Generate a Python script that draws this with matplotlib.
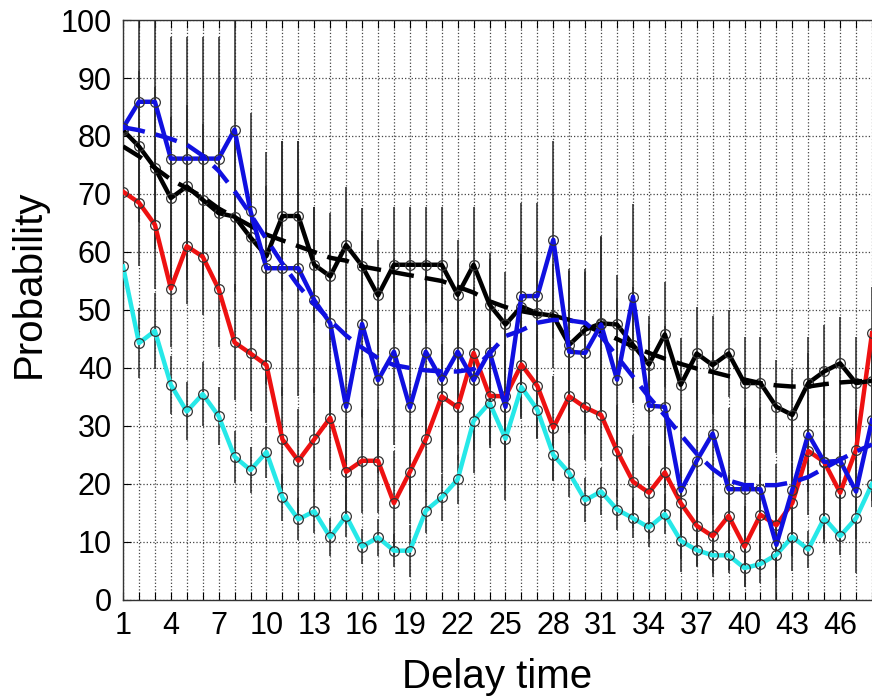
import numpy as np
import matplotlib
matplotlib.use("Agg")
import matplotlib.pyplot as plt

plt.rcParams['font.family'] = ['Liberation Sans', 'DejaVu Sans']

# delay time 1..48 (right part of the original is cut off)
delay = list(range(1, 49))

black = [81.0, 78.2, 74.5, 69.3, 71.3, 69.0, 66.7, 66.1, 62.5, 59.3, 66.2, 66.2, 57.8, 55.8, 61.2, 57.6,
         52.5, 57.8, 57.8, 57.8, 57.8, 52.6, 57.8, 50.9, 47.5, 50.6, 49.4, 49.0, 44.0, 46.6, 47.7, 47.5,
         44.0, 40.6, 45.8, 37.1, 42.5, 40.5, 42.5, 37.4, 37.4, 33.3, 31.9, 37.4, 39.4, 40.8, 37.4, 37.8]
blue = [81.4, 85.9, 85.9, 76.1, 76.1, 76.1, 76.1, 81.1, 67.0, 57.2, 57.2, 57.2, 51.7, 47.7, 33.3, 47.6,
        37.9, 42.8, 33.2, 42.8, 37.9, 42.8, 37.9, 42.8, 33.3, 52.4, 52.4, 62.1, 42.8, 42.6, 47.5, 38.0,
        52.3, 33.5, 33.3, 18.8, 24.0, 28.7, 19.1, 19.1, 19.1, 9.5, 19.0, 28.6, 23.8, 24.0, 18.7, 31.0]
red = [70.4, 68.5, 64.7, 53.7, 61.0, 59.2, 53.6, 44.4, 42.5, 40.5, 27.7, 24.0, 27.7, 31.4, 22.1, 24.0,
       24.0, 16.7, 22.1, 27.7, 35.1, 33.2, 42.6, 35.2, 35.1, 40.6, 36.9, 29.7, 35.1, 33.2, 31.9, 25.7,
       20.4, 18.5, 22.0, 16.7, 12.8, 11.0, 14.5, 9.2, 14.7, 12.9, 16.7, 25.7, 23.8, 18.5, 25.9, 46.0]
cyan = [57.5, 44.3, 46.4, 37.1, 32.5, 35.5, 31.7, 24.7, 22.4, 25.5, 17.7, 13.9, 15.3, 10.8, 14.5, 9.2,
        10.8, 8.5, 8.5, 15.4, 17.7, 20.8, 30.9, 34.0, 27.8, 36.7, 32.8, 25.0, 21.9, 17.2, 18.7, 15.6,
        14.1, 12.5, 14.8, 10.2, 8.6, 7.7, 7.7, 5.5, 6.2, 7.8, 10.9, 8.7, 14.1, 11.0, 14.1, 20.0]

# smooth fits (dashed)
black_fit = [78.2, 76.5, 74.5, 72.5, 71.0, 69.5, 67.5, 66.0, 64.5, 63.0, 62.0, 61.0, 60.0, 59.0, 58.5, 57.5,
             57.0, 56.5, 56.0, 55.5, 55.0, 54.0, 53.0, 51.5, 50.5, 49.8, 49.3, 49.0, 48.3, 47.3, 46.2, 45.0,
             43.7, 42.6, 41.6, 40.7, 39.9, 39.3, 38.6, 38.0, 37.4, 37.0, 36.8, 36.8, 37.2, 37.5, 37.7, 37.8]
blue_fit = [81.5, 81.0, 80.3, 79.5, 78.5, 76.6, 74.0, 70.5, 66.5, 62.2, 58.0, 54.2, 51.0, 48.2, 45.6, 43.5,
            41.7, 40.5, 40.0, 39.6, 39.4, 39.4, 39.8, 42.5, 45.5, 46.5, 47.8, 48.3, 48.2, 47.8, 45.5, 42.0,
            38.5, 35.0, 31.8, 28.5, 25.2, 22.6, 20.6, 19.8, 19.8, 19.8, 20.3, 21.2, 22.7, 24.2, 25.6, 26.8]

# error bar half-lengths
black_err = [12, 13, 14, 14, 14, 13, 13, 13, 12, 12, 13, 13, 10, 11, 10, 10, 9.5, 10, 10, 10, 10, 9.4, 10, 9,
             9, 9, 9, 9, 13, 10.4, 15, 8.5, 10, 8.4, 9, 8, 8, 8.5, 7.5, 8, 8, 8, 8, 8, 8, 8, 8, 8]
blue_err = [17, 16, 16, 21, 21, 21, 21, 19, 17, 20, 22, 22, 16, 16, 18, 16, 16, 16, 16, 16, 16, 16, 16, 16,
            16, 16, 16, 17, 14, 14, 15, 14, 16, 14, 14, 14, 14, 14, 14, 14, 14, 14, 14, 14, 14, 14, 14, 14]
red_err = [11, 11, 11, 10, 10, 10, 10, 10, 10, 10, 9, 9, 9, 9, 9, 9, 9, 9, 9, 9, 9, 9, 9, 9,
           9, 9, 9, 9, 9, 9, 8, 8, 8, 8, 8, 7, 7, 7, 7, 7, 7, 7, 7, 7, 7, 7, 7, 8]
cyan_err = [7, 6, 6.5, 5, 5, 5.5, 5, 4.5, 4, 4.5, 4, 3.6, 3.8, 3.3, 3.6, 3, 3.2, 2.8, 4.5, 3.8, 4, 4.2, 5, 5.4,
            5.4, 5.5, 5, 4.5, 4.2, 3.8, 4, 3.6, 3.4, 3.3, 3.5, 3.2, 3, 3, 3, 3.2, 3.2, 4, 3.4, 3.2, 3.6, 3.3, 3.6, 4]

fig = plt.figure(figsize=(8.72, 6.97), dpi=100)
ax = fig.add_axes([0.1411, 0.1392, 0.8589, 0.8321])

for vals, err in [(black, black_err), (blue, blue_err), (red, red_err), (cyan, cyan_err)]:
    ax.errorbar(delay, vals, yerr=err, fmt='none', ecolor='#2a2a2a', elinewidth=1.1, capsize=0, zorder=2)

ax.plot(delay, cyan, color='#26e8e8', lw=3.2, marker='o', ms=7, mfc='none', mec='#333333', mew=0.9, zorder=3)
ax.plot(delay, red, color='#ee1111', lw=3.2, marker='o', ms=7, mfc='none', mec='#333333', mew=0.9, zorder=4)
ax.plot(delay, black, color='black', lw=3.2, marker='o', ms=7, mfc='none', mec='#333333', mew=0.9, zorder=5)
ax.plot(delay, blue, color='#1010e0', lw=3.2, marker='o', ms=7, mfc='none', mec='#333333', mew=0.9, zorder=6)
ax.plot(delay, black_fit, color='black', lw=3.2, ls=(0, (5, 2.5)), zorder=5)
ax.plot(delay, blue_fit, color='#1010e0', lw=3.2, ls=(0, (5, 2.5)), zorder=6)

ax.set_xlim(1, 47.52)
ax.set_ylim(0, 100)
ax.set_xticks(delay)
ax.set_xticklabels([str(d) if (d - 1) % 3 == 0 else '' for d in delay])
ax.set_yticks(range(0, 101, 10))
ax.tick_params(direction='in', length=6, width=0.8, top=True, right=False, labelsize=22, pad=8)
ax.spines['right'].set_visible(False)
for s in ['left', 'bottom', 'top']:
    ax.spines[s].set_linewidth(1.0)
    ax.spines[s].set_color('#333333')
ax.grid(True, ls=':', color='#444444', lw=0.9)
ax.set_axisbelow(True)

ax.set_xlabel('Delay time', fontsize=29)
ax.xaxis.set_label_coords(0.5, -0.1)
ax.set_ylabel('Probability', fontsize=29)
ax.yaxis.set_label_coords(-0.10, 0.545)

fig.savefig('out.png', dpi=100)
